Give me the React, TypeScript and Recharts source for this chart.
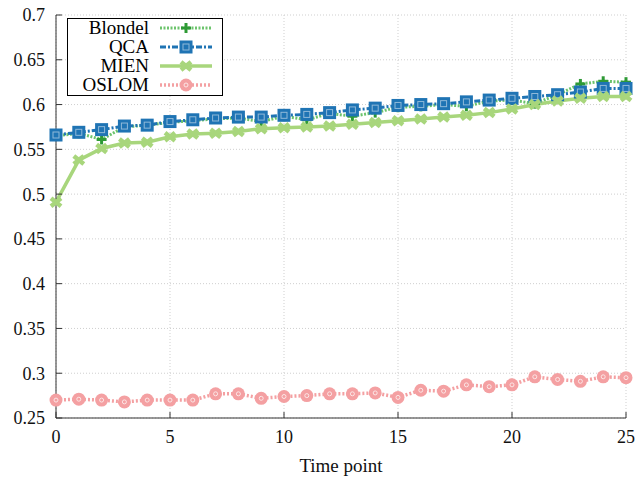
import React from 'react';
import { LineChart, Line, XAxis, YAxis, CartesianGrid } from 'recharts';

const timePoints = [0, 1, 2, 3, 4, 5, 6, 7, 8, 9, 10, 11, 12, 13, 14, 15, 16, 17, 18, 19, 20, 21, 22, 23, 24, 25];
const blondel = [0.565, 0.568, 0.561, 0.575, 0.577, 0.580, 0.582, 0.584, 0.585, 0.581, 0.587, 0.583, 0.590, 0.587, 0.591, 0.597, 0.598, 0.600, 0.598, 0.604, 0.605, 0.601, 0.611, 0.623, 0.626, 0.625];
const qca = [0.566, 0.569, 0.572, 0.576, 0.577, 0.581, 0.583, 0.585, 0.586, 0.586, 0.588, 0.589, 0.591, 0.594, 0.596, 0.599, 0.600, 0.601, 0.603, 0.605, 0.607, 0.609, 0.611, 0.614, 0.618, 0.618];
const mien = [0.491, 0.538, 0.551, 0.557, 0.558, 0.564, 0.567, 0.568, 0.570, 0.573, 0.574, 0.575, 0.576, 0.578, 0.580, 0.582, 0.584, 0.586, 0.588, 0.591, 0.595, 0.600, 0.604, 0.607, 0.609, 0.609];
const oslom = [0.270, 0.271, 0.270, 0.268, 0.270, 0.270, 0.270, 0.277, 0.277, 0.272, 0.274, 0.275, 0.277, 0.277, 0.278, 0.273, 0.281, 0.280, 0.287, 0.285, 0.287, 0.296, 0.293, 0.291, 0.296, 0.295];
const xTicks = [0, 5, 10, 15, 20, 25];
const yTicks = [0.25, 0.3, 0.35, 0.4, 0.45, 0.5, 0.55, 0.6, 0.65, 0.7];
const seriesNames = ['Blondel', 'QCA', 'MIEN', 'OSLOM'];

const data = timePoints.map((t, i) => ({
  t,
  Blondel: blondel[i],
  QCA: qca[i],
  MIEN: mien[i],
  OSLOM: oslom[i],
}));

const FONT = "'Liberation Serif', 'Times New Roman', Times, 'DejaVu Serif', serif";

const styles: Record<string, { stroke: string; width: number; dash?: string; marker: string }> = {
  Blondel: { stroke: '#6cc46c', width: 3, dash: '2 1.5', marker: 'plus' },
  QCA: { stroke: '#1f74b4', width: 3, dash: '6 2 2 2', marker: 'square' },
  MIEN: { stroke: '#a8d67c', width: 3.5, marker: 'cross' },
  OSLOM: { stroke: '#f4a0a2', width: 3.5, dash: '2 2', marker: 'circle' },
};

function Marker({ kind, cx, cy }: { kind: string; cx: number; cy: number }) {
  if (cx == null || cy == null) return null;
  if (kind === 'plus') {
    return (
      <g>
        <line x1={cx - 5} y1={cy} x2={cx + 5} y2={cy} stroke="#2e9a35" strokeWidth={3} />
        <line x1={cx} y1={cy - 5} x2={cx} y2={cy + 5} stroke="#2e9a35" strokeWidth={3} />
      </g>
    );
  }
  if (kind === 'square') {
    return (
      <g>
        <rect x={cx - 6.5} y={cy - 6.5} width={13} height={13} fill="#1f74b4" />
        <rect x={cx - 3} y={cy - 3} width={6} height={6} fill="none" stroke="#8fb9d9" strokeWidth={1} />
      </g>
    );
  }
  if (kind === 'cross') {
    return (
      <g>
        <line x1={cx - 5} y1={cy - 4} x2={cx + 5} y2={cy + 4} stroke="#a8d67c" strokeWidth={4.5} />
        <line x1={cx - 5} y1={cy + 4} x2={cx + 5} y2={cy - 4} stroke="#a8d67c" strokeWidth={4.5} />
      </g>
    );
  }
  return (
    <g>
      <circle cx={cx} cy={cy} r={6.5} fill="#f4a0a2" />
      <circle cx={cx} cy={cy} r={2} fill="none" stroke="#fde6e6" strokeWidth={1} />
    </g>
  );
}

function LegendBox() {
  return (
    <svg width={157} height={79} style={{ display: 'block', fontFamily: FONT }}>
      <rect x={0.5} y={0.5} width={155} height={77} fill="#fff" stroke="#000" strokeWidth={1} />
      {seriesNames.map((name) => {
        const s = styles[name];
        const i = seriesNames.indexOf(name);
        const y = 10 + i * 19;
        return (
          <g key={name}>
            <text x={82} y={y + 6} textAnchor="end" style={{ fontFamily: FONT }} fontSize={19} fill="#000">{name}</text>
            <line x1={93} y1={y} x2={145} y2={y} stroke={s.stroke} strokeWidth={s.width} strokeDasharray={s.dash} />
            <Marker kind={s.marker} cx={119} cy={y} />
          </g>
        );
      })}
    </svg>
  );
}

export default function App() {
  return (
    <div style={{ position: 'absolute', left: 0, top: 0, width: 637, height: 480, background: '#fff', fontFamily: FONT }}>
      <LineChart width={637} height={480} data={data} margin={{ top: 15, right: 11, left: 0, bottom: 0 }} style={{ fontFamily: FONT }}>
        <CartesianGrid stroke="#cfcfcf" strokeDasharray="1 2" />
        <XAxis
          dataKey="t"
          type="number"
          domain={[0, 25]}
          ticks={xTicks}
          height={62}
          tickSize={-6}
          tickMargin={18}
          stroke="#333"
          tick={{ fill: '#111', fontSize: 18, style: { fontFamily: FONT } }}
          label={{ value: 'Time point', position: 'insideBottom', offset: 8, fill: '#111', fontSize: 19, style: { fontFamily: FONT } }}
        />
        <XAxis
          xAxisId="top"
          dataKey="t"
          type="number"
          orientation="top"
          domain={[0, 25]}
          ticks={xTicks}
          height={0}
          tickSize={-6}
          stroke="#333"
          tickFormatter={() => ''}
        />
        <YAxis
          type="number"
          domain={[0.25, 0.7]}
          ticks={yTicks}
          width={56}
          tickSize={-6}
          tickMargin={17}
          stroke="#333"
          interval={0}
          tick={{ fill: '#111', fontSize: 18, style: { fontFamily: FONT } }}
        />
        <YAxis
          yAxisId="right"
          orientation="right"
          type="number"
          domain={[0.25, 0.7]}
          ticks={yTicks}
          width={0}
          tickSize={-6}
          stroke="#333"
          tickFormatter={() => ''}
        />
        {seriesNames.map((name) => {
          const s = styles[name];
          return (
            <Line
              key={name}
              type="linear"
              dataKey={name}
              stroke={s.stroke}
              strokeWidth={s.width}
              strokeDasharray={s.dash}
              isAnimationActive={false}
              dot={(p: any) => <Marker key={`${name}-${p.index}`} kind={s.marker} cx={p.cx} cy={p.cy} />}
              activeDot={false}
            />
          );
        })}
      </LineChart>
      <div style={{ position: 'absolute', left: 67, top: 18 }}>
        <LegendBox />
      </div>
    </div>
  );
}
